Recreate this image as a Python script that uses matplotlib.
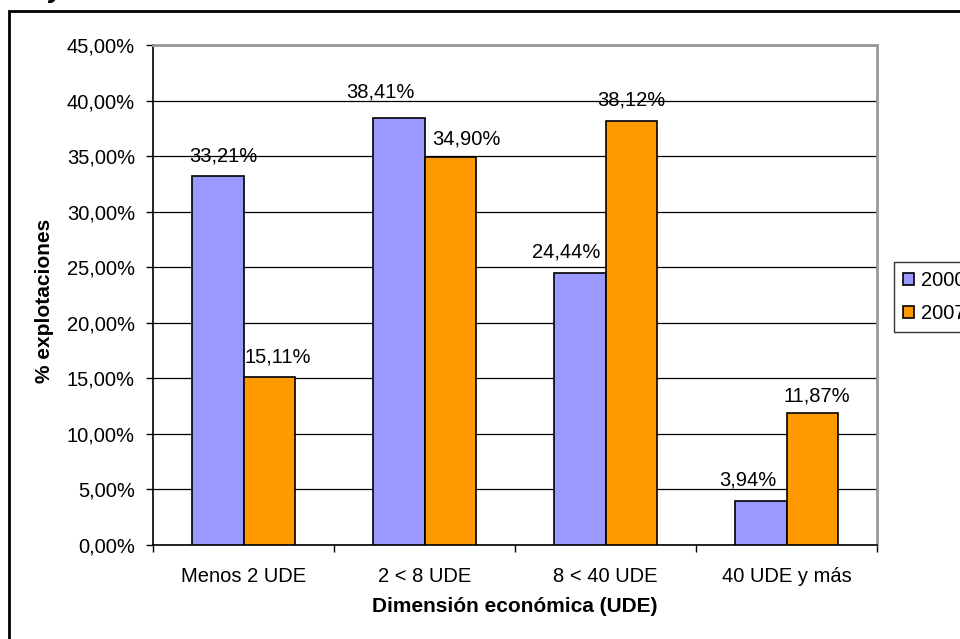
import matplotlib
matplotlib.use("Agg")
import matplotlib.pyplot as plt
from matplotlib.patches import Rectangle
import numpy as np

categories = ["Menos 2 UDE", "2 < 8 UDE", "8 < 40 UDE", "40 UDE y más"]
series_names = ["2000", "2007"]
values_2000 = [33.21, 38.41, 24.44, 3.94]
values_2007 = [15.11, 34.90, 38.12, 11.87]
yticks = [0, 5, 10, 15, 20, 25, 30, 35, 40, 45]

# label placement offsets (pixels) mimicking the original layout
label_dx = [[6, -18, -13, -13], [8, 16, 0, 4]]
label_dy = [[15, 21, 16, 16], [15, 13, 16, 12]]

plt.rcParams['font.family'] = ['Liberation Sans', 'DejaVu Sans']

W, H = 960, 639
FS = 14.5
fig = plt.figure(figsize=(9.6, 6.39), dpi=100)
ax = fig.add_axes([153 / W, 1 - 545 / H, (877 - 153) / W, (545 - 45) / H])

def fmt(v):
    return f"{v:.2f}".replace(".", ",") + "%"

x = np.arange(len(categories))
w = 1 / 3.5
b1 = ax.bar(x - w / 2, values_2000, w, color="#9999FF", edgecolor="black", linewidth=1.2, zorder=3, label=series_names[0])
b2 = ax.bar(x + w / 2, values_2007, w, color="#FF9900", edgecolor="black", linewidth=1.2, zorder=3, label=series_names[1])

for si, (bars, vals) in enumerate(((b1, values_2000), (b2, values_2007))):
    for i, (r, v) in enumerate(zip(bars, vals)):
        ax.annotate(fmt(v), (r.get_x() + r.get_width() / 2, v),
                    xytext=(label_dx[si][i], label_dy[si][i]),
                    textcoords="offset pixels", ha="center", va="baseline", fontsize=FS,
                    zorder=5)

ax.set_xlim(-0.5, 3.5)
ax.set_ylim(0, 45)
ax.set_yticks(yticks)
ax.set_yticklabels([fmt(t) for t in yticks], fontsize=FS)
ax.yaxis.grid(True, color="black", linewidth=0.9, zorder=0)
ax.set_axisbelow(True)

ax.set_xticks(x)
ax.set_xticklabels(categories, fontsize=FS)
ax.tick_params(axis="x", length=0, pad=16)
ax.set_xticks(np.arange(-0.5, 4.0, 1.0), minor=True)
ax.tick_params(axis="x", which="minor", length=5, width=1, color="black", direction="out")
ax.tick_params(axis="y", length=5, width=1, direction="out", pad=8)

for s in ("top", "right"):
    ax.spines[s].set_color("#999999")
    ax.spines[s].set_linewidth(2)
ax.spines["left"].set_color("black")
ax.spines["left"].set_linewidth(1.2)
ax.spines["bottom"].set_color("black")
ax.spines["bottom"].set_linewidth(1.2)

ax.set_xlabel("Dimensión económica (UDE)", fontsize=15, fontweight="bold")
ax.xaxis.label.set_va("center")
ax.xaxis.set_label_coords(0.5, (545 - 607) / 500)
ax.set_ylabel("% explotaciones", fontsize=15, fontweight="bold")
ax.yaxis.label.set_va("center")
ax.yaxis.set_label_coords((45 - 153) / 724, (545 - 301) / 500)

leg = fig.legend(handles=[b1, b2], labels=series_names, loc="upper left",
                 bbox_to_anchor=(894 / W, 1 - 262 / H), fontsize=FS, frameon=True,
                 fancybox=False, edgecolor="black", handlelength=0.55, handleheight=0.55,
                 handletextpad=0.35, borderpad=0.45, labelspacing=0.69, borderaxespad=0)
leg.get_frame().set_linewidth(1)

fig.patches.append(Rectangle((9 / W, -0.1), 1.2, 1 - 11 / H + 0.1, transform=fig.transFigure,
                             fill=False, edgecolor="black", linewidth=2, clip_on=False))

fig.text(48 / W, 1 + 3 / H, "y", fontsize=20, fontweight="bold", style="italic", va="baseline")

fig.savefig("out.png", dpi=100)
